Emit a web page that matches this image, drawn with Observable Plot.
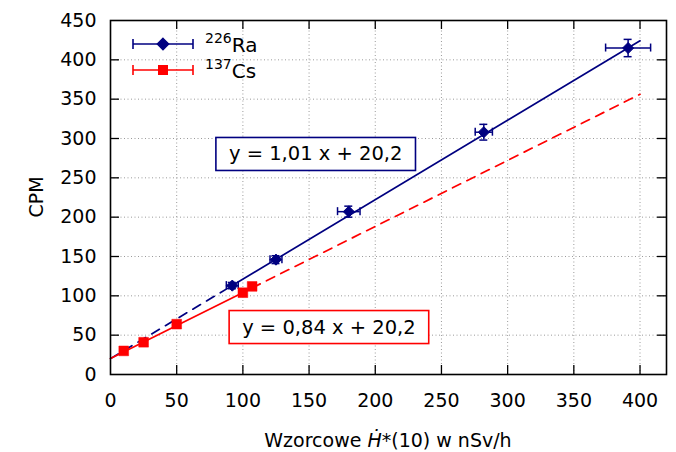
<!DOCTYPE html>
<html><head><meta charset="utf-8">
<script src="https://cdn.jsdelivr.net/npm/d3@7"></script>
<script src="https://cdn.jsdelivr.net/npm/@observablehq/plot@0.6"></script>
<style>
body{margin:0;background:#fff;}
#chart svg{font-family:"DejaVu Sans",sans-serif;}
</style></head><body><div id="chart"></div>
<script>
// ---- data ----
const raX    = [92, 125, 180, 282, 391];
const raY    = [113, 146, 207, 308, 415];
const raXErr = [4.5, 4.5, 8.5, 6.5, 17];
const raYErr = [4, 5, 7, 10, 11];
const csX    = [10, 25, 50, 100, 107];
const csY    = [30, 41, 64, 104, 112];
const raSlope = 1.01, raIntercept = 20.2;
const csSlope = 0.84, csIntercept = 20.2;
const raSolidX  = [92, 400];
const raDashedX = [0, 92];
const csSolidX  = [0, 107];
const csDashedX = [107, 400];
const xTicks = [0, 50, 100, 150, 200, 250, 300, 350, 400];
const yTicks = [0, 50, 100, 150, 200, 250, 300, 350, 400, 450];
const eqLabels = ["y = 1,01 x + 20,2", "y = 0,84 x + 20,2"];
const eqX = [155, 165];
const eqY = [280, 60];
const legendNames = [["226", "Ra"], ["137", "Cs"]];

// ---- layout / style ----
const W = 676, H = 452, mL = 110, mR = 10, mT = 20, mB = 78;
const fw = W - mL - mR, fh = H - mT - mB;
const navy = "#000080", red = "#ff0000";
const tk = 9, cap = 4;

const ra = raX.map((x, i) => ({x, y: raY[i], ex: raXErr[i], ey: raYErr[i]}));
const cs = csX.map((x, i) => ({x, y: csY[i]}));
const seg = (xs, m, b) => xs.map(x => ({x, y: m * x + b}));
const eqs = eqLabels.map((t, i) => ({t, x: eqX[i], y: eqY[i], c: i === 0 ? navy : red}));
const inner = v => v.filter(d => d > 0 && d < 450);

const chart = Plot.plot({
  width: W, height: H,
  marginLeft: mL, marginRight: mR, marginTop: mT, marginBottom: mB,
  style: {fontFamily: "DejaVu Sans, sans-serif", fontSize: "19px", color: "#000", background: "#fff"},
  x: {domain: [0, 420]},
  y: {domain: [0, 450]},
  marks: [
    Plot.ruleX(inner(xTicks), {x: d => d, stroke: "#9a9a9a", strokeDasharray: "1,2.5"}),
    Plot.ruleY(inner(yTicks), {y: d => d, stroke: "#9a9a9a", strokeDasharray: "1,2.5"}),
    Plot.axisX({ticks: xTicks, tickSize: 0, tickPadding: 19, label: null, tickFormat: d => String(d)}),
    Plot.axisY({ticks: yTicks, tickSize: 0, tickPadding: 14, label: null, tickFormat: d => String(d)}),
    // inward ticks on all four sides
    Plot.ruleY(inner(yTicks), {y: d => d, insetRight: fw - tk, stroke: "#000", strokeWidth: 1.3}),
    Plot.ruleY(inner(yTicks), {y: d => d, insetLeft: fw - tk, stroke: "#000", strokeWidth: 1.3}),
    Plot.ruleX(inner(xTicks), {x: d => d, insetTop: fh - tk, stroke: "#000", strokeWidth: 1.3}),
    Plot.ruleX(inner(xTicks), {x: d => d, insetBottom: fh - tk, stroke: "#000", strokeWidth: 1.3}),
    // fit lines
    Plot.line(seg(raSolidX, raSlope, raIntercept), {x: "x", y: "y", stroke: navy, strokeWidth: 1.7}),
    Plot.line(seg(raDashedX, raSlope, raIntercept), {x: "x", y: "y", stroke: navy, strokeWidth: 1.7, strokeDasharray: "9,7"}),
    Plot.line(seg(csSolidX, csSlope, csIntercept), {x: "x", y: "y", stroke: red, strokeWidth: 1.7}),
    Plot.line(seg(csDashedX, csSlope, csIntercept), {x: "x", y: "y", stroke: red, strokeWidth: 1.7, strokeDasharray: "9,7"}),
    // Ra error bars
    Plot.ruleY(ra, {y: "y", x1: d => d.x - d.ex, x2: d => d.x + d.ex, stroke: navy, strokeWidth: 1.5}),
    Plot.ruleX(ra, {x: d => d.x - d.ex, y1: "y", y2: "y", insetTop: -cap, insetBottom: -cap, stroke: navy, strokeWidth: 1.5}),
    Plot.ruleX(ra, {x: d => d.x + d.ex, y1: "y", y2: "y", insetTop: -cap, insetBottom: -cap, stroke: navy, strokeWidth: 1.5}),
    Plot.ruleX(ra, {x: "x", y1: d => d.y - d.ey, y2: d => d.y + d.ey, stroke: navy, strokeWidth: 1.5}),
    Plot.ruleY(ra, {y: d => d.y - d.ey, x1: "x", x2: "x", insetLeft: -cap, insetRight: -cap, stroke: navy, strokeWidth: 1.5}),
    Plot.ruleY(ra, {y: d => d.y + d.ey, x1: "x", x2: "x", insetLeft: -cap, insetRight: -cap, stroke: navy, strokeWidth: 1.5}),
    // points
    Plot.dot(ra, {x: "x", y: "y", symbol: "diamond2", r: 5, fill: navy, stroke: navy, strokeWidth: 1}),
    Plot.dot(cs, {x: "x", y: "y", symbol: "square", r: 5.5, fill: red, stroke: red, strokeWidth: 0.5}),
    // equations
    Plot.text(eqs, {x: "x", y: "y", text: "t", fill: "#000", fontSize: 19.5}),
    Plot.frame({stroke: "#000", strokeWidth: 1.6})
  ]
});
document.getElementById("chart").appendChild(chart);

const svg = d3.select(chart);
// boxes behind equations
svg.selectAll('g[aria-label="text"] text').each(function (d, i) {
  const b = this.getBBox();
  const padX = 13, padY = 6;
  this.parentNode.insertBefore(
    d3.create("svg:rect")
      .attr("transform", this.getAttribute("transform"))
      .attr("x", b.x - padX).attr("y", b.y - padY + 1)
      .attr("width", b.width + 2 * padX).attr("height", b.height + 2 * padY - 2)
      .attr("fill", "#fff").attr("stroke", eqs[i].c).attr("stroke-width", 1.6).node(),
    this);
});

// legend
const leg = svg.append("g").attr("font-family", "DejaVu Sans, sans-serif").attr("text-anchor", "start");
[[navy, "diamond"], [red, "square"]].forEach(([c, s], i) => {
  const y = 44 + i * 26, x1 = 133, x2 = 193, xm = 163;
  const g = leg.append("g").attr("stroke", c).attr("stroke-width", 1.6);
  g.append("line").attr("x1", x1).attr("x2", x2).attr("y1", y).attr("y2", y);
  g.append("line").attr("x1", x1).attr("x2", x1).attr("y1", y - 5).attr("y2", y + 5);
  g.append("line").attr("x1", x2).attr("x2", x2).attr("y1", y - 5).attr("y2", y + 5);
  if (s === "diamond") {
    g.append("path").attr("d", d3.symbol(d3.symbolDiamond2, Math.PI * 25)()).attr("transform", `translate(${xm},${y})`).attr("fill", c);
  } else {
    g.append("rect").attr("x", xm - 5).attr("y", y - 5).attr("width", 10).attr("height", 10).attr("fill", c).attr("stroke", "none");
  }
  const t = leg.append("text").attr("x", 205).attr("y", y + 8).attr("font-size", 20).attr("fill", "#000").attr("text-anchor", "start");
  t.append("tspan").attr("font-size", 14).attr("dy", -9).text(legendNames[i][0]);
  t.append("tspan").attr("dy", 9).text(legendNames[i][1]);
});

// axis titles
svg.append("text").attr("x", (mL + W - mR) / 2).attr("y", 447).attr("text-anchor", "middle")
  .attr("font-size", 19).attr("fill", "#000")
  .call(t => {
    t.append("tspan").text("Wzorcowe ");
    t.append("tspan").attr("font-style", "italic").text("Ḣ");
    t.append("tspan").text("*(10) w nSv/h");
  });
svg.append("text").attr("transform", `translate(43,${mT + fh / 2}) rotate(-90)`).attr("text-anchor", "middle")
  .attr("font-size", 19).attr("fill", "#000").text("CPM");
</script>
</body></html>
